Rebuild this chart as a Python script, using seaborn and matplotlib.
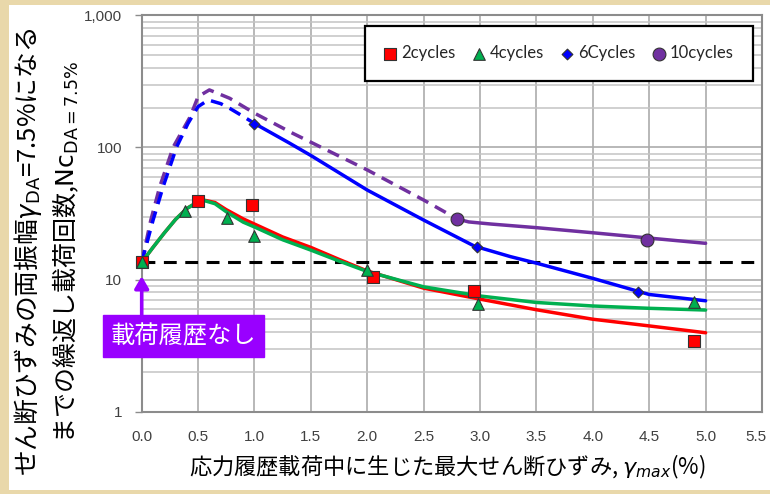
import matplotlib
matplotlib.use("Agg")
import matplotlib.pyplot as plt
from matplotlib.patches import Rectangle
from matplotlib.ticker import FixedLocator, FixedFormatter, LogLocator, NullFormatter
from matplotlib.transforms import ScaledTranslation
import pandas as pd
import seaborn as sns

# ---- test results: cycles to gamma_DA = 7.5% vs. prior max shear strain ----
x_2c = [0.0, 0.5, 0.98, 2.05, 2.95, 4.9]
n_2c = [13.5, 39.0, 36.5, 10.5, 8.2, 3.45]
x_4c = [0.0, 0.38, 0.76, 1.0, 2.0, 2.98, 4.9]
n_4c = [13.5, 33.0, 29.0, 21.5, 11.8, 6.5, 6.8]
x_6c = [1.0, 2.97, 4.4]
n_6c = [150.0, 17.7, 8.1]
x_10c = [2.8, 4.48]
n_10c = [28.7, 19.8]

# ---- trend curves ----
trend_x_2c = [0.0, 0.1, 0.2, 0.3, 0.4, 0.5, 0.56, 0.65, 0.75, 0.9, 1.0, 1.25, 1.5, 1.75,
              2.0, 2.5, 3.0, 3.5, 4.0, 4.5, 5.0]
trend_n_2c = [13.5, 17.5, 22.5, 28.5, 34.5, 38.8, 39.8, 38.3, 33.8, 28.8, 26.3, 21.0, 17.5, 14.2,
              11.6, 8.6, 7.1, 5.9, 5.0, 4.45, 3.95]
trend_x_4c = [0.0, 0.1, 0.2, 0.3, 0.4, 0.5, 0.56, 0.65, 0.75, 0.9, 1.0, 1.25, 1.5, 1.75,
              2.0, 2.5, 3.0, 3.5, 4.0, 4.5, 5.0]
trend_n_4c = [13.5, 17.5, 22.5, 28.5, 34.5, 38.8, 39.5, 37.5, 32.6, 27.2, 25.0, 20.0, 16.7, 13.8,
              11.5, 8.8, 7.5, 6.7, 6.3, 6.05, 5.87]
trend_x_6c_dash = [0.0, 0.1, 0.19, 0.31, 0.41, 0.5, 0.59, 0.7, 0.78, 0.9, 1.0]
trend_n_6c_dash = [13.5, 28.0, 50.5, 101.0, 152.0, 204.0, 229.0, 215.0, 198.0, 172.0, 152.0]
trend_x_6c = [1.0, 1.31, 1.5, 2.0, 2.5, 2.95, 3.27, 3.5, 4.0, 4.5, 5.0]
trend_n_6c = [152.0, 108.0, 87.0, 47.6, 28.2, 17.9, 14.9, 13.3, 10.2, 7.7, 6.9]
trend_x_10c_dash = [0.0, 0.08, 0.16, 0.28, 0.43, 0.5, 0.6, 0.78, 1.0, 1.34, 2.0, 2.5, 2.8]
trend_n_10c_dash = [13.5, 28.0, 50.5, 101.0, 171.0, 243.0, 273.0, 236.0, 182.0, 128.0, 67.6, 40.0, 28.7]
trend_x_10c = [2.8, 2.9, 3.1, 3.5, 4.0, 4.5, 5.0]
trend_n_10c = [28.7, 27.3, 26.3, 24.7, 22.6, 20.6, 18.8]

no_history_level = 13.5

x_ticks = [0.0, 0.5, 1.0, 1.5, 2.0, 2.5, 3.0, 3.5, 4.0, 4.5, 5.0, 5.5]
y_ticks = [1, 10, 100, 1000]
y_tick_labels = ["1", "10", "100", "1,000"]

series_labels = ["2cycles", "4cycles", "6Cycles", "10cycles"]

RED = "#FF0000"
GREEN = "#00B050"
BLUE = "#0000FF"
PURPLE = "#7030A0"
ANNOT = "#9900FF"

sns.set_theme(style="white")
plt.rcParams["font.family"] = ["Noto Sans CJK JP", "DejaVu Sans"]
plt.rcParams["mathtext.fontset"] = "dejavusans"

W, H = 770, 494
fig = plt.figure(figsize=(W / 100, H / 100), dpi=100)
fig.patch.set_facecolor("#E9D8AA")
fig.patches.append(Rectangle((9 / W, 1 - 490 / H), 1 - 9 / W, 485 / H,
                             transform=fig.transFigure, facecolor="white",
                             edgecolor="none", zorder=-5))

L, R, T, B = 141.7, 762.0, 15.5, 411.5
ax = fig.add_axes([L / W, 1 - B / H, (R - L) / W, (B - T) / H])
ax.set_facecolor("white")
ax.set_yscale("log")
ax.set_xlim(0, 5.5)
ax.set_ylim(1, 1000)

# grid
ax.xaxis.set_major_locator(FixedLocator(x_ticks))
ax.xaxis.set_major_formatter(FixedFormatter([f"{v:.1f}" for v in x_ticks]))
ax.yaxis.set_major_locator(FixedLocator(y_ticks))
ax.yaxis.set_major_formatter(FixedFormatter(y_tick_labels))
ax.yaxis.set_minor_locator(LogLocator(base=10, subs=range(2, 10)))
ax.yaxis.set_minor_formatter(NullFormatter())
ax.grid(True, which="major", axis="both", color="#ABABAB", lw=1.2, zorder=0)
ax.grid(True, which="minor", axis="y", color="#C4C4C4", lw=1.1, zorder=0)
ax.set_axisbelow(True)
for s in ax.spines.values():
    s.set_color("#8C8C8C")
    s.set_linewidth(1.5)

ax.tick_params(axis="x", which="both", length=0, pad=13, labelsize=11,
               labelcolor="#404040", labelfontfamily="Liberation Sans")
ax.tick_params(axis="y", which="major", length=5, width=1, color="#8C8C8C", pad=9,
               labelsize=11, labelcolor="#404040", labelfontfamily="Liberation Sans", left=True)
ax.tick_params(axis="y", which="minor", length=0)

# reference level without loading history
ax.axhline(no_history_level, color="black", linewidth=2.2, dashes=(4.2, 2.8), zorder=2)

# trend curves
def trend(xs, ys, color, dashed=False, z=3):
    df = pd.DataFrame({"x": xs, "n": ys})
    sns.lineplot(data=df, x="x", y="n", ax=ax, color=color, linewidth=2.5,
                 sort=False, estimator=None, legend=False, zorder=z)
    line = ax.lines[-1]
    line.set_linewidth(2.5)
    line.set_solid_capstyle("round")
    if dashed:
        line.set_dashes((3.6, 2.2))

trend(trend_x_10c_dash, trend_n_10c_dash, PURPLE, dashed=True, z=3)
trend(trend_x_6c_dash, trend_n_6c_dash, BLUE, dashed=True, z=3)
trend(trend_x_10c, trend_n_10c, PURPLE, z=3)
trend(trend_x_6c, trend_n_6c, BLUE, z=3)
trend(trend_x_2c, trend_n_2c, RED, z=3)
trend(trend_x_4c, trend_n_4c, GREEN, z=3)

# measured points
def points(xs, ys, color, marker, size, label):
    df = pd.DataFrame({"x": xs, "n": ys})
    sns.scatterplot(data=df, x="x", y="n", ax=ax, color=color, marker=marker, s=size,
                    edgecolor="#333333", linewidth=0.8, label=label, zorder=5,
                    clip_on=False)

points(x_2c, n_2c, RED, "s", 72, series_labels[0])
points(x_4c, n_4c, GREEN, "^", 70, series_labels[1])
points(x_6c, n_6c, BLUE, "D", 30, series_labels[2])
points(x_10c, n_10c, PURPLE, "o", 85, series_labels[3])

ax.set_xlabel("")
ax.set_ylabel("")

# keep the last x tick label inside the canvas
for lbl in ax.get_xticklabels():
    if lbl.get_text() == "5.5":
        lbl.set_transform(lbl.get_transform() + ScaledTranslation(-6 / 100, 0, fig.dpi_scale_trans))

leg = ax.legend(loc="center", bbox_to_anchor=(0.36, 0.8346, 0.6255, 0.139),
                mode="expand", ncol=4, frameon=True, fancybox=False, framealpha=1,
                edgecolor="black", borderpad=1.15, handlelength=0.7, handletextpad=0.3,
                columnspacing=1.0, prop={"family": "Lato", "size": 12},
                borderaxespad=0)
leg.get_frame().set_linewidth(1.6)
for t in leg.get_texts():
    t.set_color("#262626")

# annotation: no loading history
ax.annotate("", xy=(0, 10.6), xytext=(0, 5.3), xycoords="data",
            arrowprops=dict(arrowstyle="-|>,head_length=0.6,head_width=0.35",
                            color=ANNOT, lw=2.6, shrinkA=0, shrinkB=0),
            zorder=6, annotation_clip=False)
ax.text(0.37, 3.73, "載荷履歴なし", color="white", fontsize=17.5, ha="center", va="center",
        bbox=dict(boxstyle="square,pad=0.32", facecolor=ANNOT, edgecolor=ANNOT),
        zorder=7, clip_on=False)

# axis titles
fig.text(28 / W, 1 - 252 / H,
         r"せん断ひずみの両振幅$\gamma_{\mathrm{DA}}$=7.5%になる",
         rotation=90, ha="center", va="center", fontsize=18.5, color="black")
fig.text(66 / W, 1 - 252 / H,
         r"までの繰返し載荷回数,$\mathrm{Nc}_{\mathrm{DA=7.5\%}}$",
         rotation=90, ha="center", va="center", fontsize=18, color="black")
fig.text(447 / W, 1 - 467 / H,
         r"応力履歴載荷中に生じた最大せん断ひずみ, $\gamma_{max}$(%)",
         ha="center", va="center", fontsize=16, color="black")

fig.savefig("out.png", dpi=100, facecolor=fig.get_facecolor())
